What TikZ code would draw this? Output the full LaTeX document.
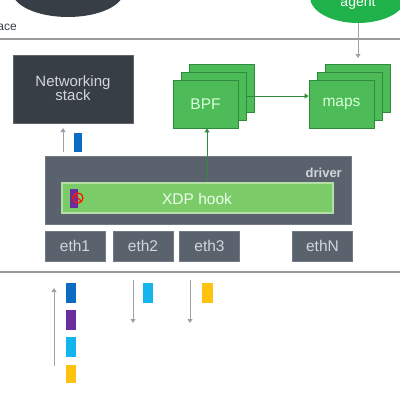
\documentclass[tikz,border=0pt]{standalone}
\usepackage{fontspec}
\setmainfont{Liberation Sans}
\usetikzlibrary{arrows.meta}
\definecolor{darkbox}{HTML}{383E46}
\definecolor{midbox}{HTML}{5A636D}
\definecolor{lbl}{HTML}{D2D6DA}
\definecolor{gfill}{HTML}{4CBB58}
\definecolor{gedge}{HTML}{2E8A3C}
\definecolor{xfill}{HTML}{7CCB69}
\definecolor{xedge}{HTML}{B3DFA6}
\definecolor{agentg}{HTML}{1FB24A}
\definecolor{sepgray}{HTML}{9A9A9A}
\definecolor{arrgray}{HTML}{9AA3AB}
\definecolor{pblue}{HTML}{0B6CC2}
\definecolor{ppurple}{HTML}{6C2D9C}
\definecolor{plblue}{HTML}{14B4EE}
\definecolor{pyellow}{HTML}{FFC20E}
\tikzset{
  dark/.style={fill=darkbox,draw=darkbox!80!white,line width=0.6pt},
  gray box/.style={fill=midbox,draw=midbox!85!white,line width=0.6pt},
  green box/.style={fill=gfill,draw=gedge,line width=0.8pt},
  lab/.style={text=lbl,font=\fontsize{15}{17}\selectfont,align=center},
  glab/.style={text=white!85!green,font=\fontsize{15.5}{17}\selectfont},
  garrow/.style={draw=gedge,line width=0.9pt,-{Triangle[width=5pt,length=4pt]}},
  grayarrow/.style={draw=arrgray,line width=0.9pt,-{Triangle[width=5pt,length=4pt]}},
  sep/.style={draw=sepgray,line width=1.6pt}
}
\begin{document}
\begin{tikzpicture}[x=1pt,y=-1pt]
\useasboundingbox (0,0) rectangle (400,400);
% user space ellipses
\fill[darkbox] (68,-9) ellipse [x radius=56,y radius=26];
\fill[agentg] (358,-3) ellipse [x radius=48,y radius=26];
\node[text=white,font=\fontsize{14}{16}\selectfont] (agent) at (358,3) {agent};
\coordinate (agentbot) at (358,23);
\node[anchor=east,text=darkbox,font=\fontsize{12}{14}\selectfont,inner sep=0] (space) at (17,29) {space};
% separators
\draw[sep] (0,39) -- (400,39);
\draw[sep] (0,272) -- (400,272);
% networking stack
\node[dark,minimum width=120pt,minimum height=68pt,inner sep=0] (net) at (73,89) {};
\node[lab] (netl) at (73,88) {Networking\\[-3pt]stack};
\coordinate (upA1) at (63,152);
\coordinate (upA2) at (63,128);
\draw[grayarrow] (upA1) -- (upA2);
\fill[pblue] (74,133) rectangle (82,152);
% BPF stack
\foreach \o in {16,8} {\draw[green box] (173+\o,80-\o) rectangle (238+\o,128-\o);}
\node[green box,minimum width=65pt,minimum height=48pt,inner sep=0] (bpf) at (205.5,104) {};
\node[glab] at (bpf) {BPF};
% maps stack
\foreach \o in {16,8} {\draw[green box] (309+\o,80-\o) rectangle (374+\o,128-\o);}
\node[green box,minimum width=65pt,minimum height=48pt,inner sep=0] (maps) at (341.5,104) {};
\node[glab] at (maps) {maps};
\coordinate (bpfr) at (246,96);
\draw[garrow] (bpfr) -- (maps.west |- bpfr);
\draw[grayarrow] (agentbot) -- (358,58);
% driver
\node[gray box,minimum width=306pt,minimum height=68pt,inner sep=0] (drv) at (198,190) {};
\node[anchor=east,text=lbl,font=\bfseries\fontsize{13}{15}\selectfont,inner sep=0] (drvl) at (342,173) {driver};
\node[fill=xfill,draw=xedge,line width=1.2pt,minimum width=271pt,minimum height=30pt,inner sep=0] (xdp) at (197.5,198) {};
\node[glab,text=white!92!green] (xdpl) at (197,199) {XDP hook};
\fill[ppurple] (70,189) rectangle (78,208);
\draw[red!80!orange,line width=1.3pt] (78,198) circle [radius=5];
\draw[red!80!orange,line width=1.1pt] (74.5,194.5) -- (81.5,201.5);
\draw[garrow] (xdp.north -| 207,0) -- (bpf.south -| 207,0);
% eth
\tikzset{ethb/.style={gray box,minimum width=60pt,minimum height=30pt,inner sep=0,text=lbl,font=\fontsize{15.5}{17}\selectfont}}
\node[ethb] (e1) at (75,246) {eth1};
\node[ethb] (e2) at (143,246) {eth2};
\node[ethb] (e3) at (209.5,246) {eth3};
\node[ethb] (eN) at (322.5,246) {ethN};
% packets
\coordinate (b1) at (54,366); \coordinate (b2) at (54,288);
\draw[grayarrow] (b1) -- (b2);
\fill[pblue] (66,283) rectangle (76,303);
\fill[ppurple] (66,310) rectangle (76,330);
\fill[plblue] (66,337) rectangle (76,357);
\fill[pyellow] (66,365) rectangle (76,383);
\coordinate (c1) at (133,280); \coordinate (c2) at (133,323);
\draw[grayarrow] (c1) -- (c2);
\fill[plblue] (143,283) rectangle (153,303);
\coordinate (d1) at (190,280); \coordinate (d2) at (190,323);
\draw[grayarrow] (d1) -- (d2);
\fill[pyellow] (202,283) rectangle (213,303);
\end{tikzpicture}
\end{document}
